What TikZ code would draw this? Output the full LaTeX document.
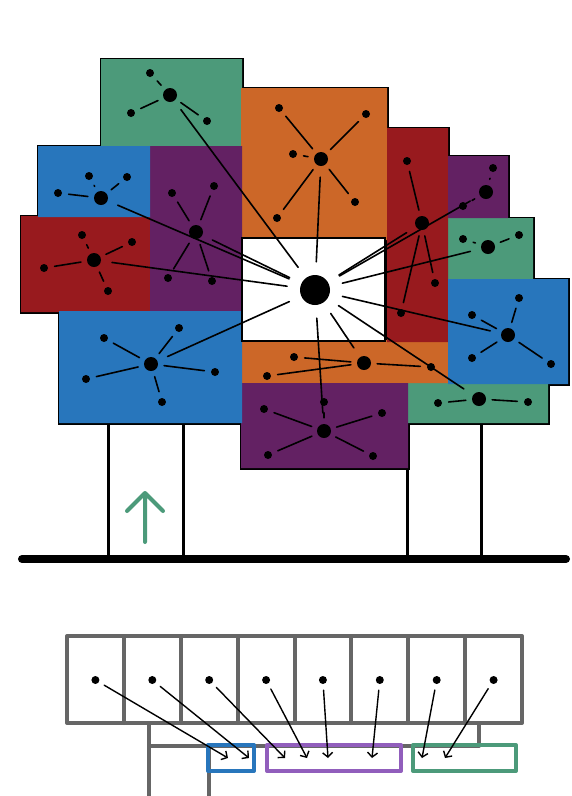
\documentclass[tikz,border=0pt]{standalone}
\usepackage{tikz}
\usetikzlibrary{arrows.meta}
\usepackage{xcolor}
\definecolor{tgreen}{RGB}{76,154,122}
\definecolor{tblue}{RGB}{40,118,188}
\definecolor{tpurple}{RGB}{99,33,99}
\definecolor{tred}{RGB}{152,26,30}
\definecolor{torange}{RGB}{204,103,40}
\definecolor{lpurple}{RGB}{145,94,188}
\definecolor{cellgray}{RGB}{102,102,102}

\begin{document}
\begin{tikzpicture}[x=1pt,y=-1pt,>={Straight Barb[length=4.5pt,width=10pt]},line cap=round,
  core/.style={circle,fill=black,inner sep=0pt,minimum size=30pt},
  hub/.style={circle,fill=black,inner sep=0pt,minimum size=14pt},
  leaf/.style={circle,fill=black,inner sep=0pt,minimum size=8pt},
  spoke/.style={line width=1.6pt,shorten <=13pt,shorten >=11pt},
  twig/.style={line width=1.6pt,shorten <=6pt,shorten >=6.5pt},
  cell/.style={draw=cellgray,line width=4pt,line join=round},
  bin/.style={line width=4pt,line join=round}]
\useasboundingbox (0,0) rectangle (572,796);
% legs and ground
\draw[line width=3pt,line cap=butt] (108,423) -- (108,559);
\draw[line width=3pt,line cap=butt] (183,423) -- (183,559);
\draw[line width=3pt,line cap=butt] (407,468) -- (407,559);
\draw[line width=3pt,line cap=butt] (481,423) -- (481,559);
\draw[line width=8pt] (22,559) -- (566,559);
\draw[line width=4pt,line join=round,tgreen] (127,511) -- (145,493) -- (163,511) (145,493) -- (145,542);
% blocks: outline first, then fill over the inner edges
\draw[line width=3pt] (101,59) rectangle (242,146) (241,88) rectangle (387,240)
  (387,128) rectangle (448,342) (448,156) rectangle (508,218) (448,218) rectangle (533,279)
  (448,279) rectangle (568,384) (408,383) rectangle (548,423) (241,383) rectangle (408,468)
  (241,340) rectangle (448,383) (38,146) rectangle (150,217) (150,146) rectangle (242,311)
  (21,216) rectangle (150,312) (59,311) rectangle (242,423);
\fill[tgreen] (101,59) rectangle (242,146) (448,218) rectangle (533,279) (408,383) rectangle (548,423);
\fill[torange] (241,88) rectangle (387,240) (241,340) rectangle (448,383);
\fill[tred] (387,128) rectangle (448,342) (21,216) rectangle (150,312);
\fill[tpurple] (448,156) rectangle (508,218) (241,383) rectangle (408,468) (150,146) rectangle (242,311);
\fill[tblue] (448,279) rectangle (568,384) (38,146) rectangle (150,217) (59,311) rectangle (242,423);
\draw[fill=white,line width=1.8pt] (242,238) rectangle (385,341);
% nodes
\node[core] (core) at (315,290) {};
% green, top left
\node[hub] (gtl) at (170,95) {};
\node[leaf] (gtl1) at (150,73) {};
\node[leaf] (gtl2) at (131,113) {};
\node[leaf] (gtl3) at (207,121) {};
% blue, top left
\node[hub] (btl) at (101,198) {};
\node[leaf] (btl1) at (89,176) {};
\node[leaf] (btl2) at (127,177) {};
\node[leaf] (btl3) at (58,193) {};
% purple, left
\node[hub] (pl) at (196,232) {};
\node[leaf] (pl1) at (172,193) {};
\node[leaf] (pl2) at (214,186) {};
\node[leaf] (pl3) at (168,278) {};
\node[leaf] (pl4) at (212,281) {};
% red, left
\node[hub] (rl) at (94,260) {};
\node[leaf] (rl1) at (82,235) {};
\node[leaf] (rl2) at (132,242) {};
\node[leaf] (rl3) at (44,268) {};
\node[leaf] (rl4) at (108,291) {};
% blue, bottom left
\node[hub] (bbl) at (151,364) {};
\node[leaf] (bbl1) at (104,338) {};
\node[leaf] (bbl2) at (179,328) {};
\node[leaf] (bbl3) at (86,379) {};
\node[leaf] (bbl4) at (215,372) {};
\node[leaf] (bbl5) at (162,402) {};
% orange, top
\node[hub] (ot) at (321,159) {};
\node[leaf] (ot1) at (279,108) {};
\node[leaf] (ot2) at (366,114) {};
\node[leaf] (ot3) at (293,154) {};
\node[leaf] (ot4) at (277,218) {};
\node[leaf] (ot5) at (355,202) {};
% red, right
\node[hub] (rr) at (422,223) {};
\node[leaf] (rr1) at (407,161) {};
\node[leaf] (rr2) at (435,283) {};
\node[leaf] (rr3) at (401,313) {};
% purple, right
\node[hub] (pr) at (486,192) {};
\node[leaf] (pr1) at (493,168) {};
\node[leaf] (pr2) at (463,206) {};
% green, right
\node[hub] (gr) at (488,247) {};
\node[leaf] (gr1) at (463,239) {};
\node[leaf] (gr2) at (519,235) {};
% blue, right
\node[hub] (br) at (508,335) {};
\node[leaf] (br1) at (472,315) {};
\node[leaf] (br2) at (519,298) {};
\node[leaf] (br3) at (472,358) {};
\node[leaf] (br4) at (551,364) {};
% orange, bottom
\node[hub] (ob) at (364,363) {};
\node[leaf] (ob1) at (294,357) {};
\node[leaf] (ob2) at (267,376) {};
\node[leaf] (ob3) at (431,367) {};
% green, bottom right
\node[hub] (gbr) at (479,399) {};
\node[leaf] (gbr1) at (438,403) {};
\node[leaf] (gbr2) at (528,402) {};
% purple, bottom
\node[hub] (pb) at (324,431) {};
\node[leaf] (pb1) at (324,402) {};
\node[leaf] (pb2) at (264,409) {};
\node[leaf] (pb3) at (382,413) {};
\node[leaf] (pb4) at (268,455) {};
\node[leaf] (pb5) at (373,456) {};
% edges
\draw[twig] (gtl) -- (gtl1); \draw[twig] (gtl) -- (gtl2); \draw[twig] (gtl) -- (gtl3);
\draw[twig] (btl) -- (btl1); \draw[twig] (btl) -- (btl2); \draw[twig] (btl) -- (btl3);
\draw[twig] (pl) -- (pl1); \draw[twig] (pl) -- (pl2); \draw[twig] (pl) -- (pl3); \draw[twig] (pl) -- (pl4);
\draw[twig] (rl) -- (rl1); \draw[twig] (rl) -- (rl2); \draw[twig] (rl) -- (rl3); \draw[twig] (rl) -- (rl4);
\draw[twig] (bbl) -- (bbl1); \draw[twig] (bbl) -- (bbl2); \draw[twig] (bbl) -- (bbl3);
\draw[twig] (bbl) -- (bbl4); \draw[twig] (bbl) -- (bbl5);
\draw[twig] (ot) -- (ot1); \draw[twig] (ot) -- (ot2); \draw[twig] (ot) -- (ot3);
\draw[twig] (ot) -- (ot4); \draw[twig] (ot) -- (ot5);
\draw[twig] (rr) -- (rr1); \draw[twig] (rr) -- (rr2); \draw[twig] (rr) -- (rr3);
\draw[twig] (pr) -- (pr1); \draw[twig] (pr) -- (pr2);
\draw[twig] (gr) -- (gr1); \draw[twig] (gr) -- (gr2);
\draw[twig] (br) -- (br1); \draw[twig] (br) -- (br2); \draw[twig] (br) -- (br3); \draw[twig] (br) -- (br4);
\draw[twig] (ob) -- (ob1); \draw[twig] (ob) -- (ob2); \draw[twig] (ob) -- (ob3);
\draw[twig] (gbr) -- (gbr1); \draw[twig] (gbr) -- (gbr2);
\draw[twig] (pb) -- (pb1); \draw[twig] (pb) -- (pb2); \draw[twig] (pb) -- (pb3);
\draw[twig] (pb) -- (pb4); \draw[twig] (pb) -- (pb5);
\draw[spoke] (core) -- (gtl); \draw[spoke] (core) -- (btl); \draw[spoke] (core) -- (pl);
\draw[spoke] (core) -- (rl); \draw[spoke] (core) -- (bbl); \draw[spoke] (core) -- (ot);
\draw[spoke] (core) -- (rr); \draw[spoke] (core) -- (pr); \draw[spoke] (core) -- (gr);
\draw[spoke] (core) -- (br); \draw[spoke] (core) -- (ob); \draw[spoke] (core) -- (gbr);
\draw[spoke] (core) -- (pb);
% array of cells
\draw[cell] (67,636) rectangle (522,723);
\draw[cell] (123.9,636) -- (123.9,723);
\draw[cell] (180.75,636) -- (180.75,723);
\draw[cell] (237.6,636) -- (237.6,723);
\draw[cell] (294.5,636) -- (294.5,723);
\draw[cell] (351.4,636) -- (351.4,723);
\draw[cell] (408.25,636) -- (408.25,723);
\draw[cell] (465.1,636) -- (465.1,723);
\draw[cell] (149,723) -- (149,796);
\draw[cell] (149,746) -- (479,746) -- (479,723);
\draw[cell] (209,746) -- (209,796);
\draw[bin,draw=tblue] (208,745) rectangle (254,771);
\draw[bin,draw=lpurple] (267,745) rectangle (401,771);
\draw[bin,draw=tgreen] (413,745) rectangle (516,771);
\node[leaf] (c1) at (95.4,680) {};
\node[leaf] (c2) at (152.3,680) {};
\node[leaf] (c3) at (209.2,680) {};
\node[leaf] (c4) at (266.1,680) {};
\node[leaf] (c5) at (322.9,680) {};
\node[leaf] (c6) at (379.8,680) {};
\node[leaf] (c7) at (436.7,680) {};
\node[leaf] (c8) at (493.6,680) {};
\coordinate (t1) at (228,758);
\coordinate (t2) at (249,758);
\coordinate (t3) at (285,758);
\coordinate (t4) at (307,758);
\coordinate (t5) at (328,758);
\coordinate (t6) at (372,758);
\coordinate (t7) at (422,758);
\coordinate (t8) at (445,758);
\draw[->,line width=1.4pt,shorten <=6pt] (c1) -- (t1);
\draw[->,line width=1.4pt,shorten <=6pt] (c2) -- (t2);
\draw[->,line width=1.4pt,shorten <=6pt] (c3) -- (t3);
\draw[->,line width=1.4pt,shorten <=6pt] (c4) -- (t4);
\draw[->,line width=1.4pt,shorten <=6pt] (c5) -- (t5);
\draw[->,line width=1.4pt,shorten <=6pt] (c6) -- (t6);
\draw[->,line width=1.4pt,shorten <=6pt] (c7) -- (t7);
\draw[->,line width=1.4pt,shorten <=6pt] (c8) -- (t8);
\end{tikzpicture}
\end{document}
